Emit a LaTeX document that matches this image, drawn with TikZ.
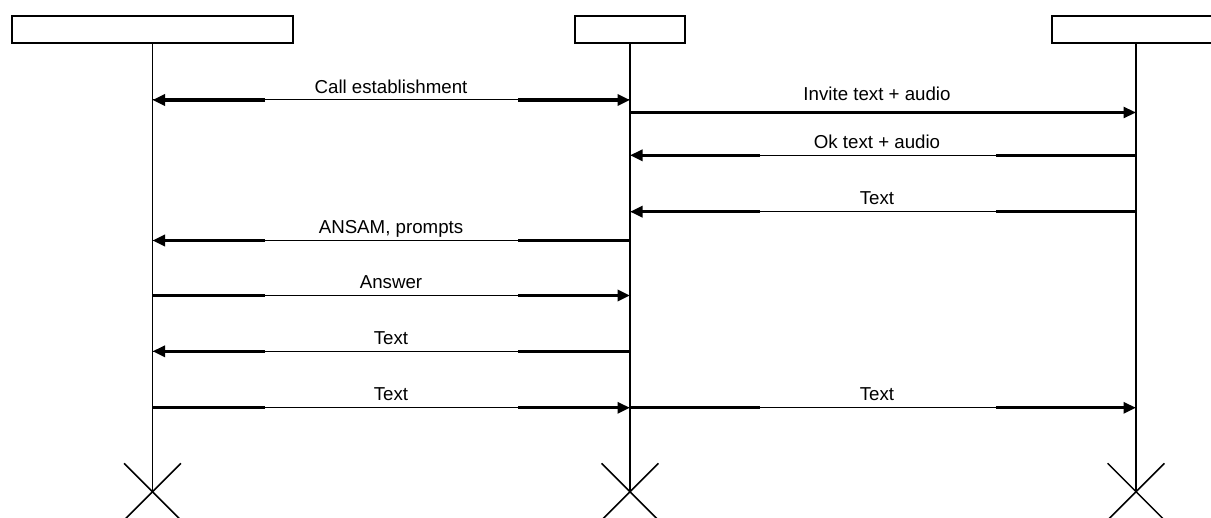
\documentclass[tikz,border=0pt]{standalone}
\usepackage{fontspec}
\setmainfont{Liberation Sans}
\usetikzlibrary{arrows.meta}
\begin{document}
\begin{tikzpicture}[x=1pt,y=-1pt,
  hdr/.style={draw,line width=2pt,minimum height=26.4pt,inner sep=0pt},
  life/.style={line width=1.6pt},
  xmark/.style={line width=1.5pt},
  thinmsg/.style={line width=1pt},
  fatmsg/.style={line width=3.3pt},
  midmsg/.style={line width=2.4pt},
  tip/.style={-{Triangle[length=12.5pt,width=11pt]}},
  lbl/.style={anchor=base,inner sep=0pt,font=\fontsize{18.7pt}{22pt}\selectfont}]
\useasboundingbox (0,0) rectangle (1211,518);
\clip (0,0) rectangle (1211,518);

% header boxes
\node[hdr,minimum width=280.3pt] (A) at (152.5,29.5) {};
\node[hdr,minimum width=110.7pt] (B) at (630,29.5) {};
\node[hdr,minimum width=168pt]   (C) at (1136,29.5) {};

% lifeline ends
\coordinate (Aend) at (152.5,491.7);
\coordinate (Bend) at (630,491.7);
\coordinate (Cend) at (1136,491.7);

% lifelines
\draw[life] (A.south) -- (Aend);
\draw[life] (B.south) -- (Bend);
\draw[life] (C.south) -- (Cend);

% end crosses
\foreach \e in {Aend,Bend,Cend}{
  \draw[xmark] ([shift={(-28.4,-28.4)}]\e) -- ([shift={(28.4,28.4)}]\e);
  \draw[xmark] ([shift={(28.4,-28.4)}]\e) -- ([shift={(-28.4,28.4)}]\e);
}

% message anchor points on the lifelines
\coordinate (A1) at (152.5,100);   \coordinate (B1) at (630,100);
\coordinate (B2) at (630,112.5);   \coordinate (C2) at (1136,112.5);
\coordinate (B3) at (630,155.3);   \coordinate (C3) at (1136,155.3);
\coordinate (B4) at (630,211.7);   \coordinate (C4) at (1136,211.7);
\coordinate (A5) at (152.5,240.5); \coordinate (B5) at (630,240.5);
\coordinate (A6) at (152.5,295.5); \coordinate (B6) at (630,295.5);
\coordinate (A7) at (152.5,351.3); \coordinate (B7) at (630,351.3);
\coordinate (A8) at (152.5,407.8); \coordinate (B8) at (630,407.8);
\coordinate (C8) at (1136,407.8);

% 1: call establishment (both ways)
\draw[thinmsg] (A1) -- (B1);
\draw[fatmsg,tip] ([xshift=112.5pt]A1) -- (A1);
\draw[fatmsg,tip] ([xshift=-112pt]B1) -- (B1);
\node[lbl] (l1) at (391,94) {Call establishment};

% 2: invite
\draw[midmsg,tip] (B2) -- (C2);
\node[lbl] (l2) at (877,100.7) {Invite text + audio};

% 3: ok
\draw[thinmsg] (C3) -- (B3);
\draw[fatmsg] (C3) -- ([xshift=-140pt]C3);
\draw[fatmsg,tip] ([xshift=130pt]B3) -- (B3);
\node[lbl] (l3) at (877,148.5) {Ok text + audio};

% 4: text C to B
\draw[thinmsg] (C4) -- (B4);
\draw[fatmsg] (C4) -- ([xshift=-140pt]C4);
\draw[fatmsg,tip] ([xshift=130pt]B4) -- (B4);
\node[lbl] (l4) at (877,205) {Text};

% 5: ANSAM
\draw[thinmsg] (B5) -- (A5);
\draw[fatmsg] (B5) -- ([xshift=-112pt]B5);
\draw[fatmsg,tip] ([xshift=112.5pt]A5) -- (A5);
\node[lbl] (l5) at (391,234) {ANSAM, prompts};

% 6: answer
\draw[thinmsg] (A6) -- (B6);
\draw[fatmsg] (A6) -- ([xshift=112.5pt]A6);
\draw[fatmsg,tip] ([xshift=-112pt]B6) -- (B6);
\node[lbl] (l6) at (391,289) {Answer};

% 7: text B to A
\draw[thinmsg] (B7) -- (A7);
\draw[fatmsg] (B7) -- ([xshift=-112pt]B7);
\draw[fatmsg,tip] ([xshift=112.5pt]A7) -- (A7);
\node[lbl] (l7) at (391,345) {Text};

% 8: text A to B, B to C
\draw[thinmsg] (A8) -- (B8);
\draw[fatmsg] (A8) -- ([xshift=112.5pt]A8);
\draw[fatmsg,tip] ([xshift=-112pt]B8) -- (B8);
\node[lbl] (l8a) at (391,401) {Text};
\draw[thinmsg] (B8) -- (C8);
\draw[fatmsg] (B8) -- ([xshift=130pt]B8);
\draw[fatmsg,tip] ([xshift=-140pt]C8) -- (C8);
\node[lbl] (l8b) at (877,401) {Text};
\end{tikzpicture}
\end{document}
